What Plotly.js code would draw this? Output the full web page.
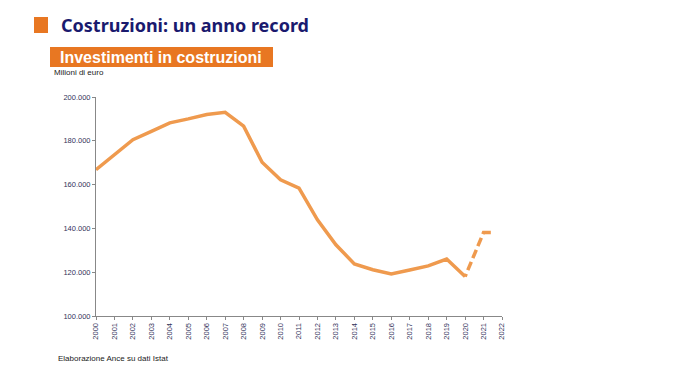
<!DOCTYPE html>
<html><head><meta charset="utf-8">
<script src="https://cdn.plot.ly/plotly-3.0.1.min.js"></script>
<style>html,body{margin:0;padding:0;background:#fff}#c{width:680px;height:382px}</style>
</head><body><div id="c"></div>
<script>
const years = [2000,2001,2002,2003,2004,2005,2006,2007,2008,2009,2010,2011,2012,2013,2014,2015,2016,2017,2018,2019,2020];
const invest = [166800,173800,180500,184300,188200,190000,192000,193000,186700,170200,162200,158400,143900,132500,123800,121100,119200,121000,122900,126000,118000];
const estYears = [2020,2021,2021.5];
const estInvest = [118000,138100,138100];
const tickYears = [2000,2001,2002,2003,2004,2005,2006,2007,2008,2009,2010,2011,2012,2013,2014,2015,2016,2017,2018,2019,2020,2021,2022];
const yTicks = [100000,120000,140000,160000,180000,200000];

const lineColor = '#EF9A4E';
const traces = [
  {x: years, y: invest, type:'scatter', mode:'lines', line:{color:lineColor, width:3.5}, hoverinfo:'skip'},
  {x: estYears, y: estInvest, type:'scatter', mode:'lines', line:{color:lineColor, width:3.5, dash:'3px,4px,9px,4px,9px,4px,9px,4px,9px'}, hoverinfo:'skip'}
];
const W = 406, H = 219, L = 96, B = 316;
const px = v => (v - L) / W;
const py = v => (B - v) / H;
const layout = {
  width:680, height:382,
  margin:{l:96, r:178, t:97, b:66},
  paper_bgcolor:'#fff', plot_bgcolor:'#fff',
  showlegend:false,
  separators:',.',
  font:{family:'Liberation Sans, Arial, sans-serif', color:'#33335a'},
  xaxis:{range:[2000,2022], tickvals:tickYears, ticktext:tickYears.map(String), tickangle:-90,
    showgrid:false, zeroline:false, showline:true, linecolor:'#888', linewidth:1,
    ticks:'outside', ticklen:3, tickcolor:'#888', tickfont:{size:7.5, color:'#33335a'}},
  yaxis:{range:[100000,200000], tickvals:yTicks, tickformat:',d',
    showgrid:false, zeroline:false, showline:true, linecolor:'#888', linewidth:1,
    ticks:'outside', ticklen:3, tickcolor:'#888', tickfont:{size:7.5, color:'#33335a'}},
  shapes:[
    {type:'rect', xref:'paper', yref:'paper', x0:px(34), x1:px(48), y0:py(33), y1:py(17), fillcolor:'#E87722', line:{width:0}},
    {type:'rect', xref:'paper', yref:'paper', x0:px(50), x1:px(273), y0:py(67), y1:py(47), fillcolor:'#E87722', line:{width:0}}
  ],
  annotations:[
    {text:'<b>Costruzioni: un anno record</b>', xref:'paper', yref:'paper', x:px(59), y:py(25), xanchor:'left', yanchor:'middle',
     showarrow:false, font:{family:'Noto Sans, sans-serif', size:18, color:'#1a1a6e'}},
    {text:'<b>Investimenti in costruzioni</b>', xref:'paper', yref:'paper', x:px(58), y:py(57), xanchor:'left', yanchor:'middle',
     showarrow:false, font:{family:'Liberation Sans, Arial, sans-serif', size:16, color:'#fff'}},
    {text:'Milioni di euro', xref:'paper', yref:'paper', x:px(52), y:py(72), xanchor:'left', yanchor:'middle',
     showarrow:false, font:{size:8, color:'#222'}},
    {text:'Elaborazione Ance su dati Istat', xref:'paper', yref:'paper', x:px(56), y:py(358), xanchor:'left', yanchor:'middle',
     showarrow:false, font:{size:8, color:'#222'}}
  ]
};
Plotly.newPlot('c', traces, layout, {displayModeBar:false, staticPlot:true});
</script></body></html>
